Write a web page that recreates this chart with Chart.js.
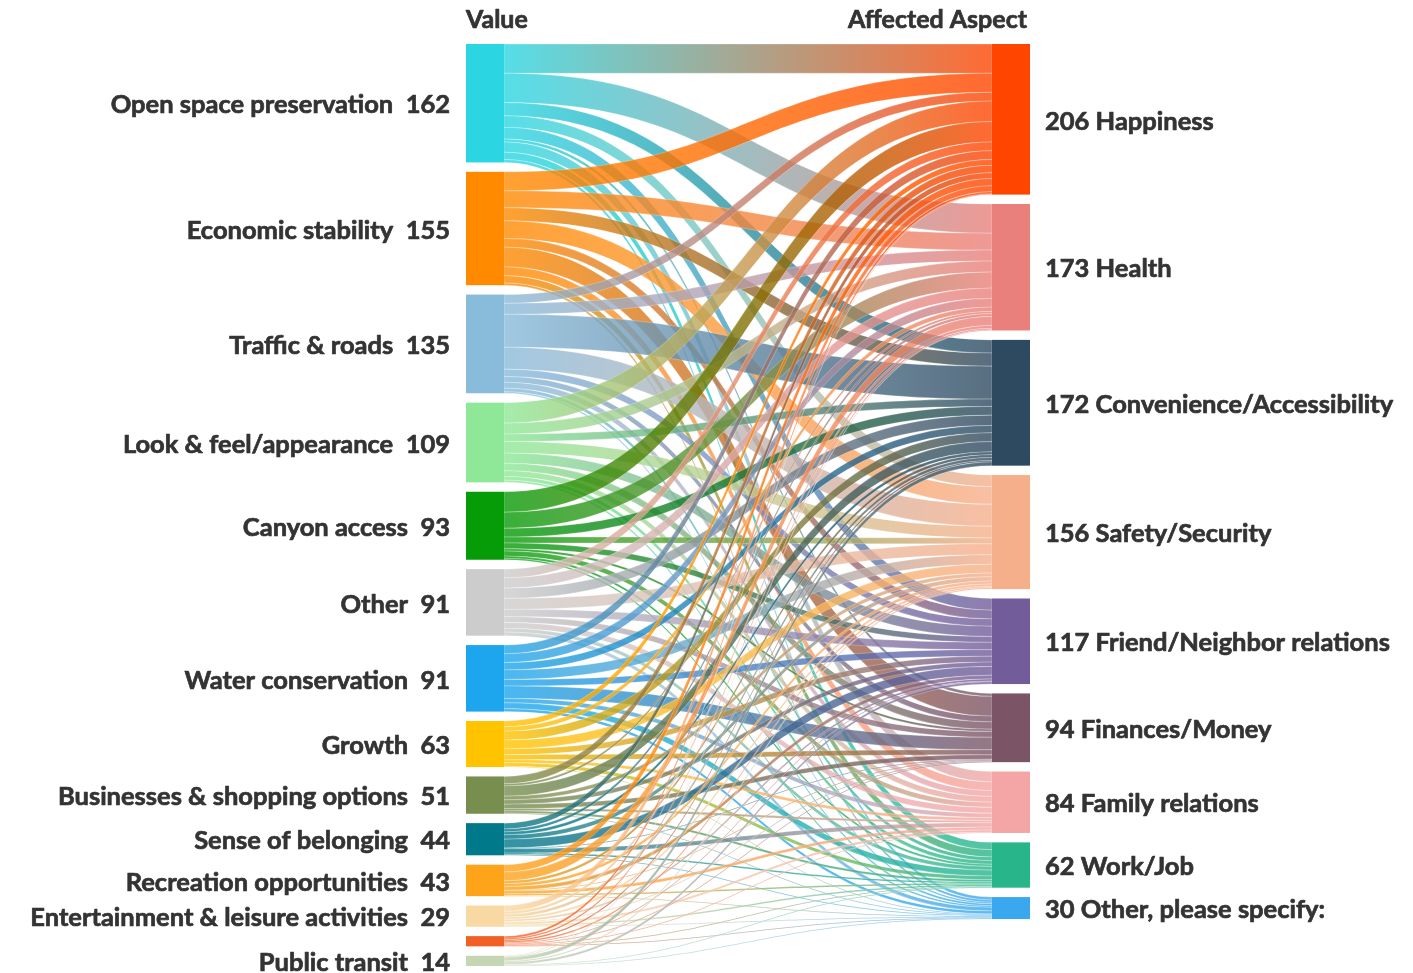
<!DOCTYPE html>
<html>
<head>
<meta charset="utf-8">
<title>Value vs Affected Aspect</title>
<script src="https://cdn.jsdelivr.net/npm/chart.js@4"></script>
<style>
  html, body { margin: 0; padding: 0; background: #fff; }
  canvas { display: block; }
</style>
</head>
<body>
<canvas id="sankey" width="1413" height="973"></canvas>
<script>
// ---- data ---------------------------------------------------------------
const sourceNames  = ["Open space preservation", "Economic stability", "Traffic & roads",
  "Look & feel/appearance", "Canyon access", "Other", "Water conservation", "Growth",
  "Businesses & shopping options", "Sense of belonging", "Recreation opportunities",
  "Entertainment & leisure activities", "", "Public transit"];
const sourceColors = ["#2bd6e2", "#ff8a00", "#89bbdb", "#8ee897", "#069c07", "#cccccc",
  "#1da6ee", "#ffc300", "#788e4e", "#00798b", "#fda41b", "#f8d9a3", "#f16024", "#c5d6b4"];

const targetNames  = ["Happiness", "Health", "Convenience/Accessibility", "Safety/Security",
  "Friend/Neighbor relations", "Finances/Money", "Family relations", "Work/Job",
  "Other, please specify:"];
const targetColors = ["#ff4500", "#ea807b", "#2e4a61", "#f6af8b", "#725c9a", "#7b5466",
  "#f4a6a6", "#28b58a", "#39a8ef"];

// flows from each value to each affected aspect (same order as targetNames)
const openSpace     = [40, 40, 18, 16, 16,  4, 14, 10, 4];
const economic      = [26, 23, 18, 24, 12, 27, 12, 10, 3];
const traffic       = [12, 15, 45, 30, 10,  8,  8,  5, 2];
const lookFeel      = [28, 15, 10, 16, 14, 10,  8,  5, 3];
const canyon        = [28, 22, 12,  8,  8,  3,  7,  3, 2];
const otherValue    = [12, 14, 14, 15, 10,  8,  8,  5, 5];
const water         = [12, 12, 10, 13,  9, 17,  6,  8, 4];
const growth        = [ 8,  6, 12, 12,  8,  7,  4,  5, 1];
const businesses    = [10,  3, 14,  5,  6,  6,  3,  3, 1];
const belonging     = [ 8,  4,  4,  6, 12,  1,  6,  2, 1];
const recreation    = [10, 12,  4,  4,  5,  1,  4,  2, 1];
const entertainment = [ 8,  4,  4,  3,  3,  1,  3,  2, 1];
const unlabeled     = [ 3,  2,  2,  2,  1,  1,  1,  1, 1];
const transit       = [ 1,  1,  5,  2,  3,  0,  0,  1, 1];

const flows = [openSpace, economic, traffic, lookFeel, canyon, otherValue, water,
  growth, businesses, belonging, recreation, entertainment, unlabeled, transit];

// ---- layout helpers (in value units) -----------------------------------
const sourceTotals = flows.map(r => r.reduce((a, b) => a + b, 0));
const targetTotals = targetNames.map((_, t) => flows.reduce((a, r) => a + r[t], 0));
const grand   = sourceTotals.reduce((a, b) => a + b, 0);
const nodePad = 12.85;
const yMax    = grand + nodePad * (sourceNames.length - 1);
const nodeW   = 38 / 564;   // node width as a share of the x range

function stack(totals) {
  let y = 0;
  return totals.map(v => { const n = { y0: y, y1: y + v }; y += v + nodePad; return n; });
}
const leftNodes  = stack(sourceTotals);
const rightNodes = stack(targetTotals);

function rgba(hex, a) {
  const n = parseInt(hex.slice(1), 16);
  return `rgba(${n >> 16},${(n >> 8) & 255},${n & 255},${a})`;
}

const FONT = "Lato, 'Open Sans', sans-serif";
const TEXT = "#333333";

// bold text with a thin outline so it reads as heavy as the original
function heavyText(ctx, str, x, y) {
  ctx.strokeText(str, x, y);
  ctx.fillText(str, x, y);
}

// ---- sankey drawing plugin ------------------------------------------------
const sankeyPlugin = {
  id: "sankey",
  afterDatasetsDraw(chart) {
    const { ctx, scales: { x, y } } = chart;
    const xl0 = x.getPixelForValue(0), xl1 = x.getPixelForValue(nodeW);
    const xr0 = x.getPixelForValue(1 - nodeW), xr1 = x.getPixelForValue(1);
    const xm  = (xl1 + xr0) / 2;

    // offsets for stacking links inside nodes
    const outOff = leftNodes.map(n => n.y0);
    const inOff  = rightNodes.map(n => n.y0);
    const links = [];
    flows.forEach((row, s) => row.forEach((v, t) => {
      if (!v) return;
      links.push({ s, t, v, sy: outOff[s], ty: 0 });
      outOff[s] += v;
    }));
    targetNames.forEach((_, t) => {
      links.filter(l => l.t === t).sort((a, b) => a.s - b.s).forEach(l => {
        l.ty = inOff[t]; inOff[t] += l.v;
      });
    });

    ctx.save();
    links.forEach(l => {
      const a0 = y.getPixelForValue(l.sy), a1 = y.getPixelForValue(l.sy + l.v);
      const b0 = y.getPixelForValue(l.ty), b1 = y.getPixelForValue(l.ty + l.v);
      const g = ctx.createLinearGradient(xl1, 0, xr0, 0);
      g.addColorStop(0, rgba(sourceColors[l.s], 0.8));
      g.addColorStop(1, rgba(targetColors[l.t], 0.8));
      ctx.beginPath();
      ctx.moveTo(xl1, a0);
      ctx.bezierCurveTo(xm, a0, xm, b0, xr0, b0);
      ctx.lineTo(xr0, b1);
      ctx.bezierCurveTo(xm, b1, xm, a1, xl1, a1);
      ctx.closePath();
      ctx.fillStyle = g;
      ctx.fill();
      ctx.strokeStyle = "rgba(255,255,255,0.5)";
      ctx.lineWidth = 0.5;
      ctx.stroke();
    });

    // nodes
    leftNodes.forEach((n, i) => {
      ctx.fillStyle = sourceColors[i];
      const p0 = y.getPixelForValue(n.y0), p1 = y.getPixelForValue(n.y1);
      ctx.fillRect(xl0, p0, xl1 - xl0, p1 - p0);
    });
    rightNodes.forEach((n, i) => {
      ctx.fillStyle = targetColors[i];
      const p0 = y.getPixelForValue(n.y0), p1 = y.getPixelForValue(n.y1);
      ctx.fillRect(xr0, p0, xr1 - xr0, p1 - p0);
    });

    // labels
    ctx.fillStyle = TEXT;
    ctx.strokeStyle = TEXT;
    ctx.lineWidth = 0.7;
    ctx.lineJoin = "round";
    ctx.font = `bold 25.5px ${FONT}`;
    ctx.textBaseline = "middle";
    ctx.textAlign = "right";
    leftNodes.forEach((n, i) => {
      if (!sourceNames[i]) return;
      const cy = y.getPixelForValue((n.y0 + n.y1) / 2);
      heavyText(ctx, `${sourceNames[i]}  ${sourceTotals[i]}`, xl0 - 16, cy + 2);
    });
    ctx.textAlign = "left";
    rightNodes.forEach((n, i) => {
      const cy = y.getPixelForValue((n.y0 + n.y1) / 2);
      heavyText(ctx, `${targetTotals[i]} ${targetNames[i]}`, xr1 + 15, cy + 2);
    });

    // column headers
    ctx.font = `bold 25px ${FONT}`;
    ctx.textAlign = "left";
    heavyText(ctx, "Value", xl0, 20);
    ctx.textAlign = "right";
    heavyText(ctx, "Affected Aspect", xr1 - 3, 20);
    ctx.restore();
  }
};

new Chart(document.getElementById("sankey"), {
  type: "scatter",
  data: { datasets: [] },
  options: {
    responsive: false,
    animation: false,
    layout: { padding: { left: 466, right: 383, top: 44, bottom: 7 } },
    plugins: { legend: { display: false }, tooltip: { enabled: false } },
    scales: {
      x: { type: "linear", min: 0, max: 1, display: false },
      y: { type: "linear", min: 0, max: yMax, reverse: true, display: false }
    }
  },
  plugins: [sankeyPlugin]
});
</script>
</body>
</html>
